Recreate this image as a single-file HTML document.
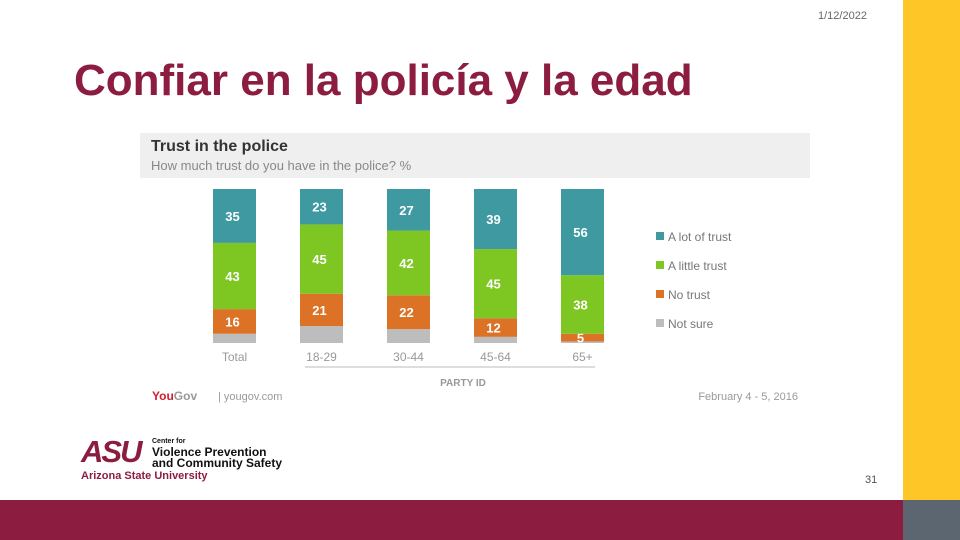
<!DOCTYPE html>
<html><head><meta charset="utf-8"><style>
body{margin:0;width:960px;height:540px;position:relative;overflow:hidden;background:#fff;font-family:"Liberation Sans",sans-serif}
.abs{position:absolute}
</style></head><body>
<div class="abs" style="left:903px;top:0;width:57px;height:500px;background:#FFC627"></div>
<div class="abs" style="left:0;top:500px;width:903px;height:40px;background:#8C1D40"></div>
<div class="abs" style="left:903px;top:500px;width:57px;height:40px;background:#5C6670"></div>
<div class="abs" style="left:818px;top:10px;font-size:11px;color:#666">1/12/2022</div>
<div class="abs" style="left:74px;top:56px;font-size:44px;font-weight:bold;color:#8C1D40;letter-spacing:0px;white-space:nowrap">Confiar en la policía y la edad</div>
<div class="abs" style="left:865px;top:474px;font-size:11px;color:#555">31</div>

<svg class="abs" style="left:0;top:0" width="960" height="540">
<rect x="140" y="133" width="670" height="45" fill="#efefef"/>
<text x="151" y="151" font-size="16" font-weight="bold" fill="#333">Trust in the police</text>
<text x="151" y="170" font-size="13" fill="#888">How much trust do you have in the police? %</text>
<g id="bars"></g>
<line x1="305" y1="367" x2="595" y2="367" stroke="#ddd" stroke-width="2"/>
<text x="463" y="386" font-size="10" fill="#999" text-anchor="middle" font-weight="bold">PARTY ID</text>
<text x="152" y="400" font-size="12" font-weight="bold" fill="#d0202e">You<tspan fill="#999">Gov</tspan></text>
<text x="218" y="400" font-size="11" fill="#999">| yougov.com</text>
<text x="798" y="400" font-size="11" fill="#999" text-anchor="end">February 4 - 5, 2016</text>
<g id="legend"></g>
</svg>

<div class="abs" style="left:81px;top:434px;font-size:31px;font-weight:900;color:#8C1D40;letter-spacing:-2px;font-style:italic">ASU</div>
<div class="abs" style="left:152px;top:434px;font-size:12px;font-weight:bold;line-height:11px;color:#111"><span style="font-size:7px">Center for</span><br>Violence Prevention<br>and Community Safety</div>
<div class="abs" style="left:81px;top:470px;font-size:11px;font-weight:bold;color:#8C1D40">Arizona State University</div>

<script>
const categories=["Total","18-29","30-44","45-64","65+"];
const lotTrust=[35,23,27,39,56];
const littleTrust=[43,45,42,45,38];
const noTrust=[16,21,22,12,5];
const notSure=[6,11,9,4,1];
const seriesNames=["A lot of trust","A little trust","No trust","Not sure"];
const colors=["#3e9aa0","#7ec622","#dc7226","#bdbdbd"];
const NS="http://www.w3.org/2000/svg";
const bottom=343, scale=1.54, x0=213, step=87, bw=43;
const xPos=i=>x0+i*step;
const yH=v=>v*scale;
const g=document.getElementById('bars');
function mk(t,a){const e=document.createElementNS(NS,t);for(const k in a)e.setAttribute(k,a[k]);return e;}
const series=[notSure,noTrust,littleTrust,lotTrust];
const sc=[colors[3],colors[2],colors[1],colors[0]];
categories.forEach((c,i)=>{
  let y=bottom;
  series.forEach((s,j)=>{
    const h=yH(s[i]); y-=h;
    const r=mk('rect',{x:xPos(i),y:y,width:bw,height:h,fill:sc[j]});
    
    
    g.appendChild(r);
    if(j>0){
      const t=mk('text',{x:xPos(i)+bw/2-2,y:y+h/2+5,'font-size':13,'font-weight':'bold',fill:'#fff','text-anchor':'middle'});
      t.textContent=s[i];
      
      
      g.appendChild(t);
    }
  });
  const l=mk('text',{x:xPos(i)+bw/2,y:361,'font-size':12,fill:'#999','text-anchor':'middle'});
  l.textContent=c;
  
  
  g.appendChild(l);
});
const lg=document.getElementById('legend');
seriesNames.forEach((n,i)=>{
  const y=232+i*29;
  const r=mk('rect',{x:656,y:y,width:8,height:8,fill:colors[i]});
  
  
  lg.appendChild(r);
  const t=mk('text',{x:668,y:y+9,'font-size':12,fill:'#777'});
  t.textContent=n;
  
  
  lg.appendChild(t);
});
</script>
</body></html>
